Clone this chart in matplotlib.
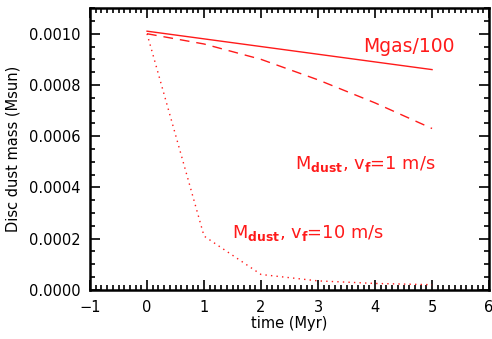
import matplotlib
matplotlib.use("Agg")
import matplotlib.pyplot as plt
from matplotlib.ticker import MultipleLocator, FormatStrFormatter

time_myr = [0, 1, 2, 3, 4, 5]
mgas_100 = [0.00101, 0.00098, 0.000950, 0.000920, 0.000890, 0.000860]
mdust_vf1 = [0.00100, 0.00096, 0.00090, 0.00082, 0.00073, 0.00063]
mdust_vf10 = [0.00100, 0.00021, 0.00006, 0.000035, 0.000025, 0.00002]

red = "#ff1a1a"
plt.rcParams['font.family'] = ['DejaVu Sans']

fig = plt.figure(figsize=(4.92, 3.39), dpi=100)
ax = fig.add_axes([0.183, 0.145, 0.811, 0.831])

ax.plot(time_myr, mgas_100, color=red, lw=1.0, linestyle='-')
ax.plot(time_myr, mdust_vf1, color=red, lw=1.0, linestyle=(0, (7, 5)))
ax.plot(time_myr, mdust_vf10, color=red, lw=1.0, linestyle=(0, (1, 3)))

ax.set_xlim(-1, 6)
ax.set_ylim(0, 0.0011)
ax.xaxis.set_major_locator(MultipleLocator(1))
ax.xaxis.set_minor_locator(MultipleLocator(0.1))
ax.yaxis.set_major_locator(MultipleLocator(0.0002))
ax.yaxis.set_minor_locator(MultipleLocator(0.00005))
ax.yaxis.set_major_formatter(FormatStrFormatter('%.4f'))
ax.tick_params(which='both', direction='in', top=True, right=True, labelsize=10.5, width=1.2, pad=7)
ax.tick_params(which='major', length=7)
ax.tick_params(which='minor', length=3.5)
for s in ax.spines.values():
    s.set_linewidth(1.8)

ax.set_xlabel('time (Myr)', fontsize=10.5, labelpad=1)
ax.set_ylabel('Disc dust mass (Msun)', fontsize=10.5, labelpad=6)

ax.text(4.6, 0.000950, 'Mgas/100', color=red, fontsize=13.5, ha='center', va='center')
ax.text(3.82, 0.000490, r'M$_{\mathbf{dust}}$, v$_{\mathbf{f}}$=1 m/s', color=red, fontsize=12.8, ha='center', va='center')
ax.text(2.82, 0.000222, r'M$_{\mathbf{dust}}$, v$_{\mathbf{f}}$=10 m/s', color=red, fontsize=12.8, ha='center', va='center')

fig.savefig('out.png', dpi=100)
